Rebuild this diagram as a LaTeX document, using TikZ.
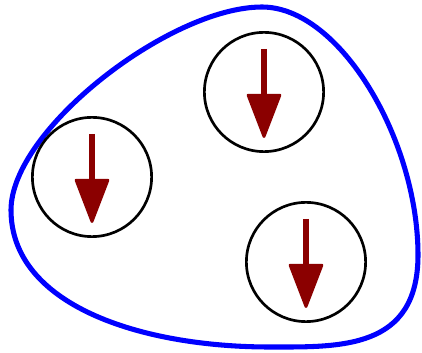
\documentclass[tikz,border=0pt]{standalone}
\usetikzlibrary{arrows.meta,calc}
\definecolor{spinred}{RGB}{139,0,0}
\tikzset{
  boundary/.style={draw=blue, line width=3.6pt},
  cell/.style={draw, circle, line width=1.9pt, minimum size=2.98cm, inner sep=0pt},
  spin/.style={-{Triangle[length=1.17cm, width=0.88cm, round, line width=2pt]}, line width=4.4pt, draw=spinred, fill=spinred}
}
\begin{document}
\begin{tikzpicture}[x=0.025cm, y=-0.025cm]
  \useasboundingbox (0,0) rectangle (422,353);
  % outer boundary
  \draw[boundary] (11,210) .. controls (11,130) and (170,7) .. (262,7)
    .. controls (340,7) and (418,140) .. (418,255)
    .. controls (418,350) and (340,347) .. (270,347)
    .. controls (140,347) and (11,305) .. cycle;

  \node[cell] (c1) at (92,177) {};
  \node[cell] (c2) at (264,92) {};
  \node[cell] (c3) at (306,262) {};

  \draw[spin] ($(c1)+(0,-43)$) -- ($(c1)+(0,46)$);
  \draw[spin] ($(c2)+(0,-43)$) -- ($(c2)+(0,46)$);
  \draw[spin] ($(c3)+(0,-43)$) -- ($(c3)+(0,46)$);
\end{tikzpicture}
\end{document}
